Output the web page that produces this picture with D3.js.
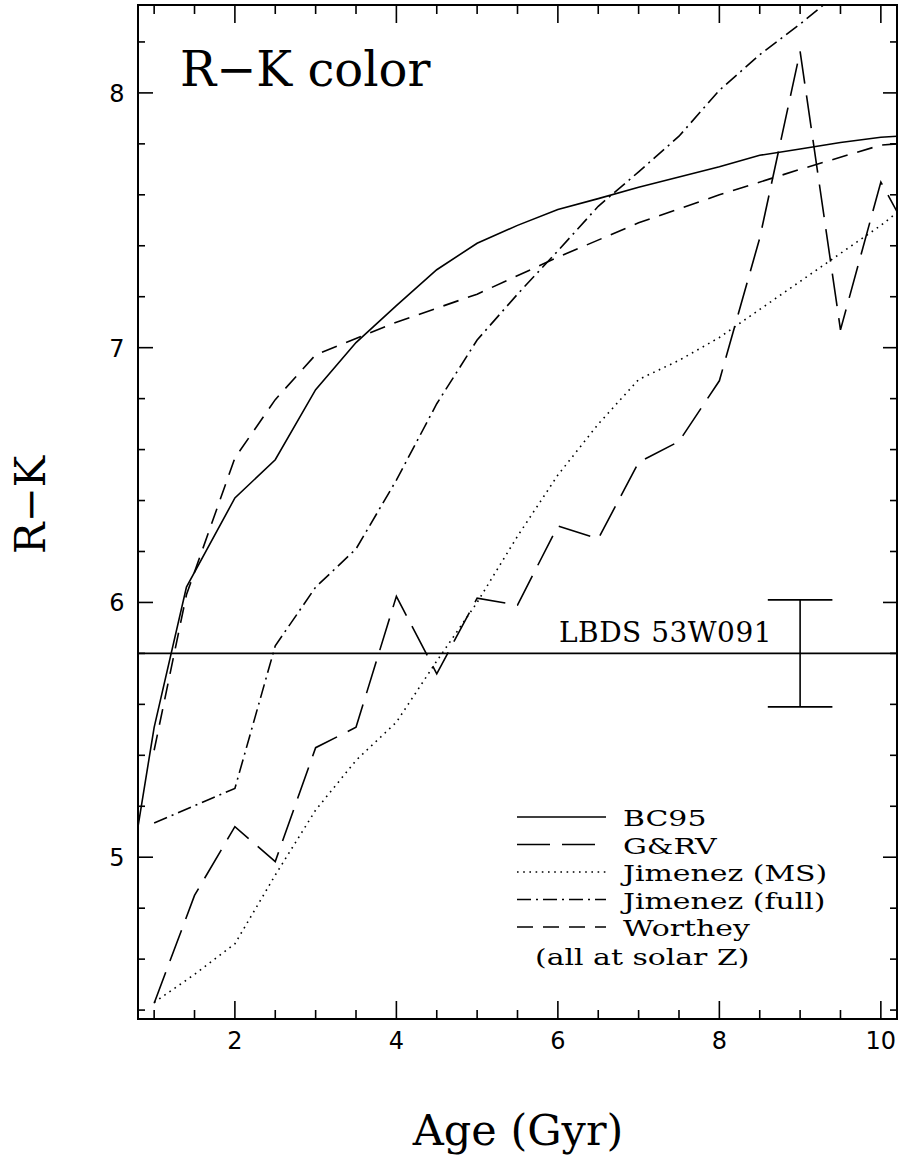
<!DOCTYPE html>
<html>
<head>
<meta charset="utf-8">
<script src="https://cdn.jsdelivr.net/npm/d3@7"></script>
<style>
  body { margin: 0; background: #fff; }
  svg text { fill: #000; }
</style>
</head>
<body>
<svg id="chart"></svg>
<script>
// model curves, R-K vs age (Gyr)
const bc95Age = [0.8, 1.0, 1.4, 2.0, 2.5, 3.0, 3.5, 4.0, 4.5, 5.0, 5.5, 6.0, 6.5, 7.0, 7.5, 8.0, 8.5, 9.0, 9.5, 10.0, 10.2];
const bc95RK  = [5.12, 5.51, 6.06, 6.41, 6.56, 6.835, 7.02, 7.165, 7.306, 7.41, 7.48, 7.542, 7.585, 7.63, 7.67, 7.71, 7.755, 7.78, 7.805, 7.826, 7.83];

const grvAge = [1.0, 1.5, 2.0, 2.5, 3.0, 3.5, 4.0, 4.5, 5.0, 5.5, 6.0, 6.5, 7.0, 7.5, 8.0, 8.5, 9.0, 9.5, 10.0, 10.5];
const grvRK  = [4.427, 4.85, 5.12, 4.983, 5.43, 5.51, 6.024, 5.72, 6.017, 5.99, 6.30, 6.25, 6.55, 6.632, 6.87, 7.43, 8.163, 7.07, 7.65, 7.36];

const jimMsAge = [1.0, 1.5, 2.0, 2.5, 3.0, 3.5, 4.0, 4.5, 5.0, 5.5, 6.0, 6.5, 7.0, 7.5, 8.0, 8.5, 9.0, 9.5, 10.0, 10.2];
const jimMsRK  = [4.43, 4.54, 4.66, 4.93, 5.185, 5.38, 5.53, 5.77, 6.00, 6.26, 6.50, 6.70, 6.875, 6.95, 7.04, 7.15, 7.26, 7.37, 7.48, 7.53];

const jimFullAge = [1.0, 2.0, 2.5, 3.0, 3.5, 4.0, 4.5, 5.0, 5.5, 6.0, 6.5, 7.0, 7.5, 8.0, 8.5, 9.0, 9.5];
const jimFullRK  = [5.134, 5.27, 5.83, 6.06, 6.21, 6.48, 6.78, 7.03, 7.21, 7.38, 7.555, 7.69, 7.83, 8.01, 8.15, 8.27, 8.40];

const worAge = [1.0, 1.4, 2.0, 2.5, 3.0, 4.0, 5.0, 6.0, 7.0, 8.0, 9.0, 10.0, 10.2];
const worRK  = [5.42, 6.03, 6.567, 6.796, 6.972, 7.10, 7.21, 7.355, 7.49, 7.60, 7.70, 7.795, 7.80];

// observed galaxy
const lbdsRK = 5.80;
const lbdsErrAge = 9.0;
const lbdsErrLow = 5.59;
const lbdsErrHigh = 6.01;
const capHalfGyr = 0.4;

const xTicksMajor = [2, 4, 6, 8, 10];
const yTicksMajor = [5, 6, 7, 8];

const legendNames = ["BC95", "G&RV", "Jimenez (MS)", "Jimenez (full)", "Worthey"];

const W = 902, H = 1158;
const plotL = 138, plotR = 897, plotT = 5, plotB = 1019;

const svg = d3.select("#chart").attr("width", W).attr("height", H);

const x = d3.scaleLinear().domain([0.8, 10.2]).range([plotL, plotR]);
const y = d3.scaleLinear().domain([4.365, 8.345]).range([plotB, plotT]);

svg.append("defs").append("clipPath").attr("id", "plotclip")
  .append("rect").attr("x", plotL).attr("y", plotT)
  .attr("width", plotR - plotL).attr("height", plotB - plotT);

const styles = [
  { dash: null },
  { dash: "33,12" },
  { dash: "1.6,4.6" },
  { dash: "14,5,2,5" },
  { dash: "16,10" }
];

const series = [
  { age: bc95Age, rk: bc95RK },
  { age: grvAge, rk: grvRK },
  { age: jimMsAge, rk: jimMsRK },
  { age: jimFullAge, rk: jimFullRK },
  { age: worAge, rk: worRK }
];

const line = d3.line().x(d => x(d[0])).y(d => y(d[1]));

const plot = svg.append("g").attr("clip-path", "url(#plotclip)");

series.forEach((s, i) => {
  plot.append("path")
    .datum(s.age.map((a, j) => [a, s.rk[j]]))
    .attr("d", line)
    .attr("fill", "none")
    .attr("stroke", "#000")
    .attr("stroke-width", 1.6)
    .attr("stroke-dasharray", styles[i].dash);
});

// LBDS 53W091 level and its error bar
plot.append("line")
  .attr("x1", plotL).attr("x2", plotR)
  .attr("y1", y(lbdsRK)).attr("y2", y(lbdsRK))
  .attr("stroke", "#000").attr("stroke-width", 1.6);

const eb = svg.append("g").attr("stroke", "#000").attr("stroke-width", 1.6);
eb.append("line")
  .attr("x1", x(lbdsErrAge)).attr("x2", x(lbdsErrAge))
  .attr("y1", y(lbdsErrLow)).attr("y2", y(lbdsErrHigh));
[lbdsErrLow, lbdsErrHigh].forEach(v => {
  eb.append("line")
    .attr("x1", x(lbdsErrAge - capHalfGyr)).attr("x2", x(lbdsErrAge + capHalfGyr))
    .attr("y1", y(v)).attr("y2", y(v));
});

svg.append("text")
  .attr("x", 559).attr("y", 642)
  .attr("font-family", "DejaVu Serif").attr("font-size", 28)
  .attr("letter-spacing", 0.5)
  .text("LBDS 53W091");

// frame and ticks
const axes = svg.append("g").attr("stroke", "#000");
axes.append("rect")
  .attr("x", plotL).attr("y", plotT)
  .attr("width", plotR - plotL).attr("height", plotB - plotT)
  .attr("fill", "none").attr("stroke-width", 2);

const xMinor = d3.range(1, 10.21, 0.5);
xMinor.forEach(v => {
  const major = xTicksMajor.includes(v);
  const len = major ? 18 : 9;
  axes.append("line").attr("x1", x(v)).attr("x2", x(v))
    .attr("y1", plotB).attr("y2", plotB - len).attr("stroke-width", 1.6);
  axes.append("line").attr("x1", x(v)).attr("x2", x(v))
    .attr("y1", plotT).attr("y2", plotT + len).attr("stroke-width", 1.6);
});

const yMinor = d3.range(4.4, 8.35, 0.2).map(v => Math.round(v * 10) / 10);
yMinor.forEach(v => {
  const major = yTicksMajor.includes(v);
  axes.append("line").attr("x1", plotL).attr("x2", plotL + (major ? 15 : 7))
    .attr("y1", y(v)).attr("y2", y(v)).attr("stroke-width", 1.6);
  axes.append("line").attr("x1", plotR).attr("x2", plotR - (major ? 14 : 7))
    .attr("y1", y(v)).attr("y2", y(v)).attr("stroke-width", 1.6);
});

svg.append("g").selectAll("text").data(xTicksMajor).join("text")
  .attr("x", d => x(d)).attr("y", 1049)
  .attr("text-anchor", "middle")
  .attr("font-family", "DejaVu Sans").attr("font-size", 24)
  .text(d => d);

svg.append("g").selectAll("text").data(yTicksMajor).join("text")
  .attr("x", 117).attr("y", d => y(d) + 9)
  .attr("text-anchor", "middle")
  .attr("font-family", "DejaVu Sans").attr("font-size", 24)
  .text(d => d);

// titles
svg.append("text")
  .attr("x", 180).attr("y", 86)
  .attr("font-family", "DejaVu Serif").attr("font-size", 48)
  .text("R\u2212K color");

svg.append("text")
  .attr("transform", "translate(45,505) rotate(-90)")
  .attr("text-anchor", "middle")
  .attr("font-family", "DejaVu Serif").attr("font-size", 42)
  .text("R\u2212K");

svg.append("text")
  .attr("x", 518).attr("y", 1145)
  .attr("text-anchor", "middle")
  .attr("font-family", "DejaVu Serif").attr("font-size", 43)
  .text("Age (Gyr)");

// legend (text stretched sideways, like the wide plotter font)
const legend = svg.append("g");
const legendText = (tx, ty, str) => legend.append("text")
  .attr("transform", `translate(${tx},${ty}) scale(1.3,1)`)
  .attr("font-family", "DejaVu Serif").attr("font-size", 23)
  .text(str);

legendNames.forEach((name, i) => {
  const ly = 817 + i * 27.5;
  legend.append("line")
    .attr("x1", 517).attr("x2", 606)
    .attr("y1", ly).attr("y2", ly)
    .attr("stroke", "#000").attr("stroke-width", 1.6)
    .attr("stroke-dasharray", styles[i].dash);
  legendText(623, ly + 9, name);
});
legendText(535, 965, "(all at solar Z)");
</script>
</body>
</html>
